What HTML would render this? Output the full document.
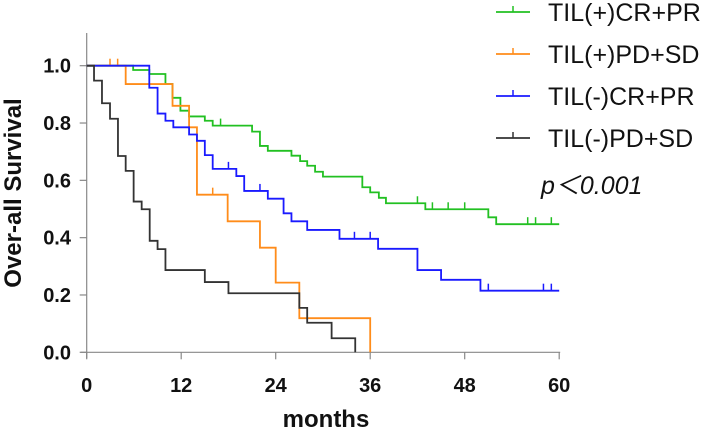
<!DOCTYPE html>
<html><head><meta charset="utf-8"><style>
body{margin:0;background:#fff;}
svg{display:block;font-family:"Liberation Sans",Arial,sans-serif;}
</style></head><body>
<svg id="chart" width="708" height="434"></svg>
<script>
const groups=["TIL(+)CR+PR","TIL(+)PD+SD","TIL(-)CR+PR","TIL(-)PD+SD"];
const colors=["#22c022","#ff8c1a","#1a1aff","#333333"];
const greenSteps=[[0,1],[5.9,0.985],[7.95,0.971],[10,0.936],[10.9,0.888],[11.9,0.843],[13,0.823],[15,0.808],[16,0.791],[21,0.77],[22,0.72],[23,0.703],[26,0.686],[27.1,0.667],[28,0.651],[29,0.63],[30,0.613],[35,0.576],[36,0.558],[37.1,0.539],[38,0.52],[43,0.499],[51,0.471],[52,0.447],[60,0.447]];
const greenCens=[17,42,43.9,45.9,48,56,57,59];
const orangeSteps=[[0,1],[4.95,0.936],[10.9,0.86],[13,0.785],[14,0.55],[17.9,0.457],[22,0.365],[24,0.243],[27,0.119],[36,0]];
const orangeCens=[2.96,3.93,16];
const blueSteps=[[0,1],[7.95,0.923],[9,0.833],[10,0.808],[11,0.785],[13,0.76],[14,0.738],[15,0.688],[16,0.64],[19,0.615],[20,0.563],[23,0.536],[25,0.485],[26,0.457],[28,0.427],[32.1,0.396],[37,0.361],[42,0.287],[45,0.253],[50,0.215],[60,0.215]];
const blueCens=[18,22,34,36,51,58,59];
const blackSteps=[[0,1],[0.93,0.948],[1.94,0.869],[2.96,0.815],[3.97,0.685],[4.95,0.633],[5.96,0.526],[6.98,0.499],[8,0.389],[9,0.36],[10,0.287],[15,0.245],[18,0.206],[27,0.155],[28,0.103],[31.1,0.049],[34.1,0]];
const blackCens=[];
const xTicks=[0,12,24,36,48,60];
const yTicks=[0,0.2,0.4,0.6,0.8,1.0];

const NS="http://www.w3.org/2000/svg";
const svg=document.getElementById('chart');
const X=m=>86.7+m*7.875;
const Y=s=>352.3-s*286.6;
function mk(t,a,p){const e=document.createElementNS(NS,t);for(const k in a)e.setAttribute(k,a[k]);(p||svg).appendChild(e);return e;}

let ax=mk('line',{x1:X(0),y1:33,x2:X(0),y2:Y(0)+6,stroke:'#888','stroke-width':1.2});


ax=mk('line',{x1:X(0)-6,y1:Y(0),x2:X(60)+1,y2:Y(0),stroke:'#888','stroke-width':1.2});


yTicks.forEach(v=>{
 mk('line',{x1:X(0)-7,x2:X(0),y1:Y(v),y2:Y(v),stroke:'#888','stroke-width':1.2});
 const t=mk('text',{x:71,y:Y(v)+7,'text-anchor':'end','font-size':20,'font-weight':'bold',fill:'#111'});
 t.textContent=v.toFixed(1);
 
 
});
xTicks.forEach(v=>{
 mk('line',{x1:X(v),x2:X(v),y1:Y(0),y2:Y(0)+7,stroke:'#888','stroke-width':1.2});
 const t=mk('text',{x:X(v),y:392,'text-anchor':'middle','font-size':20,'font-weight':'bold',fill:'#111'});
 t.textContent=v;
 
 
});
let t=mk('text',{x:326,y:427,'text-anchor':'middle','font-size':24,'font-weight':'bold',fill:'#111'});
t.textContent='months';


t=mk('text',{x:0,y:0,'text-anchor':'middle','font-size':24,'font-weight':'bold',fill:'#111',transform:'translate(21,193) rotate(-90)'});
t.textContent='Over-all Survival';



const series=[[greenSteps,greenCens],[orangeSteps,orangeCens],[blueSteps,blueCens],[blackSteps,blackCens]];
function valAt(steps,m){let v=steps[0][1];for(const s of steps){if(s[0]<=m)v=s[1];}return v;}
series.forEach((sr,i)=>{
 const [steps,cens]=sr;
 let d='M'+X(steps[0][0])+','+Y(steps[0][1]);
 for(let k=1;k<steps.length;k++){d+=' H'+X(steps[k][0])+' V'+Y(steps[k][1]);}
 const p=mk('path',{d:d,fill:'none',stroke:colors[i],'stroke-width':1.8});
 
 
 cens.forEach(c=>{
  const v=valAt(steps,c);
  const l=mk('line',{x1:X(c),x2:X(c),y1:Y(v),y2:Y(v)-7,stroke:colors[i],'stroke-width':1.5});
  
  
 });
 const ly=12+i*42;
 const g=mk('g',{});
 
 
 mk('line',{x1:496,x2:530,y1:ly,y2:ly,stroke:colors[i],'stroke-width':1.8},g);
 mk('line',{x1:513,x2:513,y1:ly,y2:ly-6,stroke:colors[i],'stroke-width':1.5},g);
 const tt=mk('text',{x:548,y:ly+9,'font-size':25,fill:'#111'},g);
 tt.textContent=groups[i];
});
t=mk('text',{x:541,y:194,'font-size':25,'font-style':'italic',fill:'#111'});
t.textContent='p\uFF1C0.001';


</script>
</body></html>
